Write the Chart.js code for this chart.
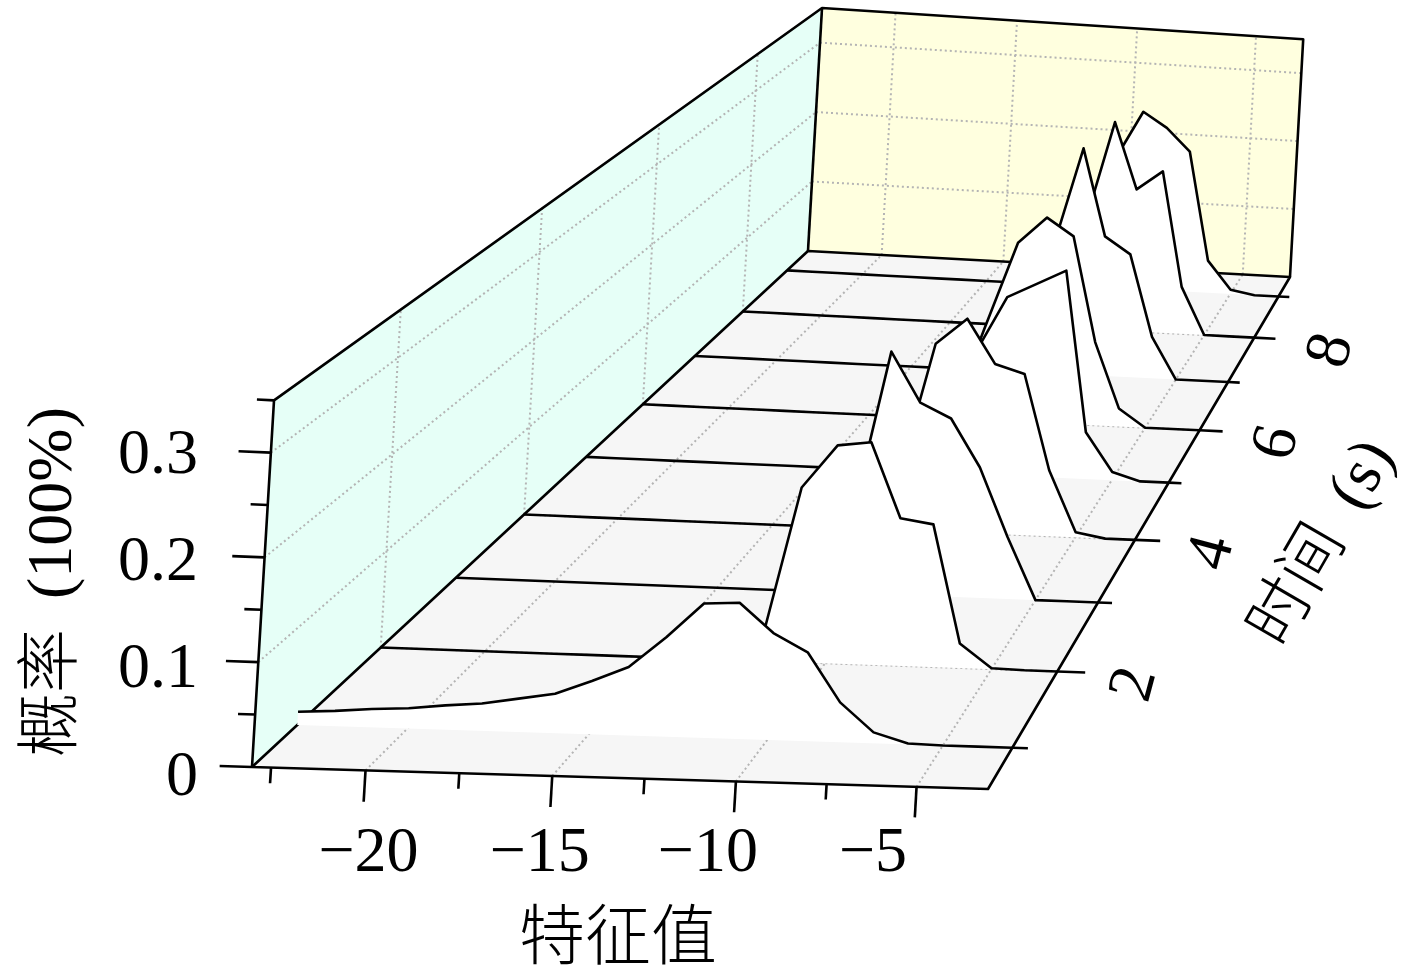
<!DOCTYPE html>
<html>
<head>
<meta charset="utf-8">
<title>特征值 waterfall</title>
<script src="https://cdn.jsdelivr.net/npm/chart.js@4"></script>
<style>
  html, body { margin: 0; background: #fff; }
  #chartBox { width: 1417px; height: 971px; }
</style>
</head>
<body>
<div id="chartBox"><canvas id="waterfall" width="1417" height="971"></canvas></div>
<script>
// values
const featureValues = [-23, -22, -21, -20, -19, -18, -17, -16, -15, -14, -13, -12, -11, -10, -9, -8, -7, -6, -5, -4, -3];
const times = [1, 2, 3, 4, 5, 6, 7, 8, 9];

const probT1 = [0.013, 0.015, 0.018, 0.020, 0.024, 0.027, 0.033, 0.039, 0.053, 0.068, 0.099, 0.134, 0.136, 0.107, 0.089, 0.040, 0.011, 0.001, 0, 0, 0];
const probT2 = [0, 0, 0, 0, 0, 0, 0, 0, 0, 0, 0, 0.008, 0.184, 0.230, 0.235, 0.156, 0.151, 0.026, 0.001, 0, 0];
const probT3 = [0, 0, 0, 0, 0, 0, 0, 0, 0, 0, 0, 0, 0.073, 0.269, 0.214, 0.198, 0.145, 0.069, 0, 0, 0];
const probT4 = [0, 0, 0, 0, 0, 0, 0, 0, 0, 0, 0, 0, 0.057, 0.218, 0.249, 0.198, 0.188, 0.077, 0.006, 0, 0];
const probT5 = [0, 0, 0, 0, 0, 0, 0, 0, 0, 0, 0, 0, 0.030, 0.147, 0.217, 0.235, 0.253, 0.057, 0.010, 0, 0];
const probT6 = [0, 0, 0, 0, 0, 0, 0, 0, 0, 0, 0, 0.010, 0.120, 0.227, 0.261, 0.239, 0.106, 0.023, 0, 0, 0];
const probT7 = [0, 0, 0, 0, 0, 0, 0, 0, 0, 0, 0, 0, 0.020, 0.158, 0.300, 0.185, 0.163, 0.055, 0, 0, 0];
const probT8 = [0, 0, 0, 0, 0, 0, 0, 0, 0, 0, 0, 0, 0.010, 0.139, 0.287, 0.196, 0.223, 0.065, 0, 0, 0];
const probT9 = [0, 0, 0, 0, 0, 0, 0, 0, 0, 0, 0, 0, 0.020, 0.187, 0.254, 0.233, 0.201, 0.046, 0.006, 0, 0];
const allProbs = [probT1, probT2, probT3, probT4, probT5, probT6, probT7, probT8, probT9];

// tick labels
const xMajorTicks = [-20, -15, -10, -5];
const xMinorTicks = [-22.5, -17.5, -12.5, -7.5];
const xTickLabels = ['\u221220', '\u221215', '\u221210', '\u22125'];
const tMajorTicks = [2, 4, 6, 8];
const tMinorTicks = [1, 3, 5, 7, 9];
const tTickLabels = ['2', '4', '6', '8'];
const zMajorTicks = [0, 0.1, 0.2, 0.3];
const zMinorTicks = [0.05, 0.15, 0.25, 0.35];
const zTickLabels = ['0', '0.1', '0.2', '0.3'];

const xLabel = '特征值';
const tLabel = '时间 (s)';
const zLabel = '概率 (100%)';

// axis limits of the 3D box
const X_MIN = -23, X_MAX = -3;
const T_MIN = 0.5, T_MAX = 9.5;
const Z_MAX = 0.35;

const BLACK = '#000000';
const GRID_COLOR = '#b4b4b4';
const LABEL_FONT = '"Liberation Serif", "Noto Sans CJK SC", serif';

// camera: homogeneous projection fitted to the corners of the box
function project(x, t, z) {
    const u = (x - X_MIN) / (X_MAX - X_MIN);
    const v = (t - T_MIN) / (T_MAX - T_MIN);
    const w = z / Z_MAX;
    const d = 0.0335 * u + 0.506 * v + 0.0016 * w + 1;
    return {
        x: (769.1 * u + 964.83 * v + 22.45 * w + 252) / d,
        y: (48.44 * u - 389 * v - 366 * w + 767) / d
    };
}

const paintList = [];

// filled region, no outline (filled by the polygonFill plugin)
function addPolygon(points, color) {
    paintList.push({ data: points, polygonFill: color, showLine: false, pointRadius: 0 });
}

function addLine(points, opts = {}) {
    paintList.push({
        data: points,
        showLine: true,
        pointRadius: 0,
        tension: 0,
        borderColor: opts.color || BLACK,
        borderWidth: opts.width || 2.6,
        borderDash: opts.dash || [],
        borderCapStyle: 'butt',
        borderJoinStyle: 'round'
    });
}

function addGrid(a, b) {
    addLine([a, b], { color: GRID_COLOR, width: 2, dash: [2, 3] });
}

// walls and floor
addPolygon([project(X_MIN, T_MIN, 0), project(X_MIN, T_MAX, 0), project(X_MIN, T_MAX, Z_MAX), project(X_MIN, T_MIN, Z_MAX)], '#e6fff7');
addPolygon([project(X_MIN, T_MAX, 0), project(X_MAX, T_MAX, 0), project(X_MAX, T_MAX, Z_MAX), project(X_MIN, T_MAX, Z_MAX)], '#ffffdf');
addPolygon([project(X_MIN, T_MIN, 0), project(X_MAX, T_MIN, 0), project(X_MAX, T_MAX, 0), project(X_MIN, T_MAX, 0)], '#f6f6f6');

// dotted grid
xMajorTicks.forEach(x => {
    addGrid(project(x, T_MIN, 0), project(x, T_MAX, 0));
    addGrid(project(x, T_MAX, 0), project(x, T_MAX, Z_MAX));
});
tMajorTicks.forEach(t => {
    addGrid(project(X_MIN, t, 0), project(X_MAX, t, 0));
    addGrid(project(X_MIN, t, 0), project(X_MIN, t, Z_MAX));
});
zMajorTicks.slice(1).forEach(z => {
    addGrid(project(X_MIN, T_MIN, z), project(X_MIN, T_MAX, z));
    addGrid(project(X_MIN, T_MAX, z), project(X_MAX, T_MAX, z));
});

// box edges
addLine([project(X_MIN, T_MIN, 0), project(X_MIN, T_MAX, 0), project(X_MAX, T_MAX, 0), project(X_MAX, T_MIN, 0), project(X_MIN, T_MIN, 0)]);
addLine([project(X_MIN, T_MIN, 0), project(X_MIN, T_MIN, Z_MAX), project(X_MIN, T_MAX, Z_MAX), project(X_MAX, T_MAX, Z_MAX), project(X_MAX, T_MAX, 0)]);
addLine([project(X_MIN, T_MAX, 0), project(X_MIN, T_MAX, Z_MAX)]);

// tick marks on the time axis sit behind the slices' right ends
const TICK_LONG = 0.85, TICK_SHORT = 0.45;
tMajorTicks.forEach(t => addLine([project(X_MAX, t, 0), project(X_MAX + TICK_LONG, t, 0)]));
tMinorTicks.forEach(t => addLine([project(X_MAX, t, 0), project(X_MAX + TICK_SHORT, t, 0)]));

// slices, back to front
for (let i = times.length - 1; i >= 0; i--) {
    const t = times[i];
    const curve = featureValues.map((x, k) => project(x, t, allProbs[i][k]));
    addPolygon([...curve, project(X_MAX, t, 0), project(X_MIN, t, 0)], '#ffffff');
    addLine(curve);
}

// value axis and feature axis ticks
zMajorTicks.forEach(z => addLine([project(X_MIN, T_MIN, z), project(X_MIN - TICK_LONG, T_MIN, z)]));
zMinorTicks.forEach(z => addLine([project(X_MIN, T_MIN, z), project(X_MIN - TICK_SHORT, T_MIN, z)]));
xMajorTicks.forEach(x => addLine([project(x, T_MIN, 0), project(x, T_MIN, -0.03)]));
xMinorTicks.forEach(x => addLine([project(x, T_MIN, 0), project(x, T_MIN, -0.015)]));

// first in the list is painted first, so it gets the highest order
paintList.forEach((ds, i) => { ds.order = paintList.length - i; ds.clip = false; });

const polygonFill = {
    id: 'polygonFill',
    beforeDatasetDraw(chart, args) {
        const color = chart.data.datasets[args.index].polygonFill;
        if (!color) return;
        const ctx = chart.ctx;
        ctx.save();
        ctx.beginPath();
        args.meta.data.forEach((pt, i) => {
            if (i === 0) ctx.moveTo(pt.x, pt.y);
            else ctx.lineTo(pt.x, pt.y);
        });
        ctx.closePath();
        ctx.fillStyle = color;
        ctx.fill();
        ctx.restore();
    }
};

function drawText(ctx, text, x, y, angle, size, align) {
    ctx.save();
    ctx.translate(x, y);
    ctx.rotate(angle * Math.PI / 180);
    ctx.font = '300 ' + size + 'px ' + LABEL_FONT;
    ctx.fillStyle = BLACK;
    ctx.textAlign = align;
    ctx.textBaseline = 'middle';
    ctx.wordSpacing = '14px';
    ctx.fillText(text, 0, 0);
    ctx.restore();
}

const axisText = {
    id: 'axisText',
    afterDraw(chart) {
        const ctx = chart.ctx;
        zMajorTicks.forEach((z, i) => {
            drawText(ctx, zTickLabels[i], 198, project(X_MIN, T_MIN, z).y + 11 - 26 * z, 0, 64, 'right');
        });
        xMajorTicks.forEach((x, i) => {
            const p = project(x, T_MIN, 0);
            drawText(ctx, xTickLabels[i], p.x + 3 - 3.1 * (x + 20), 854, 0, 64, 'center');
        });
        tMajorTicks.forEach((t, i) => {
            const p = project(X_MAX, t, 0);
            drawText(ctx, tTickLabels[i], p.x + 78, p.y + 13, -75, 64, 'center');
        });
        drawText(ctx, xLabel, 618, 942, 0, 66, 'center');
        drawText(ctx, zLabel, 54, 582, -90, 64, 'center');
        drawText(ctx, tLabel, 1324, 544, -60, 64, 'center');
    }
};

new Chart(document.getElementById('waterfall'), {
    type: 'scatter',
    data: { datasets: paintList },
    plugins: [polygonFill, axisText],
    options: {
        responsive: false,
        animation: false,
        layout: { padding: 0 },
        plugins: { legend: { display: false }, tooltip: { enabled: false } },
        scales: {
            x: { type: 'linear', min: 0, max: 1417, display: false },
            y: { type: 'linear', min: 0, max: 971, reverse: true, display: false }
        }
    }
});
</script>
</body>
</html>
